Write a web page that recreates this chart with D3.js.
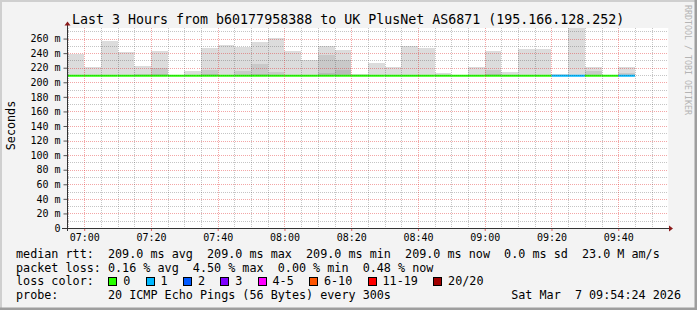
<!DOCTYPE html>
<html>
<head>
<meta charset="utf-8">
<script src="https://cdn.jsdelivr.net/npm/d3@7"></script>
<style>
  body { margin: 0; background: #fff; }
  svg text { font-family: "DejaVu Sans Mono", monospace; white-space: pre; }
</style>
</head>
<body>
<div id="chart"></div>
<script>
var w = 697;
var h = 310;

// bar start times (5 minute steps)
var barTimes = ["06:55", "07:00", "07:05", "07:10", "07:15", "07:20", "07:25", "07:30", "07:35", "07:40",
                "07:45", "07:50", "07:55", "08:00", "08:05", "08:10", "08:15", "08:20", "08:25", "08:30",
                "08:35", "08:40", "08:45", "08:50", "08:55", "09:00", "09:05", "09:10", "09:15", "09:20",
                "09:25", "09:30", "09:35", "09:40"];
// smoke, ms
var smokeMax = [239, 221, 257, 242, 222.5, 243, 210.5, 215.5, 247, 251.5, 249, 255.5, 261, 243, 231, 250, 244,
                211, 226.5, 220.5, 250, 247, 213, 210.5, 220.5, 243.5, 214.5, 245.5, 245.5, 211.5, 280, 221.5, 210.5, 220.5];
var smokeMid = [209, 209, 209, 209, 212, 220, 209, 209, 216.5, 209, 216, 225, 213.5, 209, 209, 238, 231,
                209, 209, 209, 209, 209, 209, 209, 209, 217, 209, 209, 209, 209, 209, 215, 209, 213];
var smokeLow = [209, 209, 209, 209, 209, 211, 209, 209, 211, 209, 209, 211, 209, 209, 209, 212.5, 217,
                209, 209, 209, 209, 209, 209, 209, 209, 211, 209, 209, 209, 209, 209, 209, 209, 209];
var smokeMin = 208;
var median = [209, 209, 209, 209, 209, 209, 209, 209, 209, 209, 209, 209, 209, 209, 209, 209, 209,
              209, 209, 209, 209, 209, 209, 209, 209, 209, 209, 209, 209, 209, 209, 209, 209, 209];
var lossIdx = [0, 0, 0, 0, 0, 0, 0, 0, 0, 0, 0, 0, 0, 0, 0, 0, 0,
               0, 0, 0, 0, 0, 0, 0, 0, 0, 0, 0, 0, 1, 1, 0, 0, 1];

var lossLabels = ["0", "1", "2", "3", "4-5", "6-10", "11-19", "20/20"];
var lossColors = ["#26ff00", "#00b8ff", "#0059ff", "#7e00ff", "#ff00ff", "#ff5500", "#ff0000", "#a10000"];

var yTicks = [0, 20, 40, 60, 80, 100, 120, 140, 160, 180, 200, 220, 240, 260];
var title = "Last 3 Hours from b60177958388 to UK PlusNet AS6871 (195.166.128.252)";
var statRows = [
  "median rtt:  209.0 ms avg  209.0 ms max  209.0 ms min  209.0 ms now  0.0 ms sd  23.0 M am/s",
  "packet loss: 0.16 % avg  4.50 % max  0.00 % min  0.48 % now"
];
var probeText = "probe:       20 ICMP Echo Pings (56 Bytes) every 300s";
var stamp = "Sat Mar  7 09:54:24 2026";

function t(s) {
  var p = s.split(":");
  return new Date(2026, 2, 7, +p[0], +p[1]);
}
var step = 5 * 60 * 1000;

var x0 = 67.5, x1 = 668.3, yTop = 28, yBot = 228;

var xScale = d3.scaleTime()
  .domain([t("06:55"), t("09:55")])
  .range([x0, x1]);
var yScale = d3.scaleLinear()
  .domain([0, 274.5])
  .range([yBot, yTop]);

var svg = d3.select("#chart").append("svg")
  .attr("width", w).attr("height", h);

// background + 3d frame
svg.append("rect").attr("width", w).attr("height", h).attr("fill", "#f3f3f3");
svg.append("path").attr("d", "M0,0H697V2H2V310H0Z").attr("fill", "#cfcfcf");
svg.append("path").attr("d", "M697,0V310H0V307.5H694.5V0Z").attr("fill", "#9e9e9e");

// canvas
svg.append("rect")
  .attr("x", 67).attr("y", yTop)
  .attr("width", x1 - 67).attr("height", yBot - yTop)
  .attr("fill", "#fff");

svg.append("clipPath").attr("id", "plotclip")
  .append("rect").attr("x", 67).attr("y", yTop).attr("width", x1 - 67).attr("height", yBot - yTop);

var plot = svg.append("g").attr("clip-path", "url(#plotclip)");

var bars = barTimes.map(function (s, i) {
  return { t: t(s), max: smokeMax[i], mid: smokeMid[i], low: smokeLow[i], med: median[i], loss: lossIdx[i] };
});

function smoke(key, color) {
  plot.selectAll(null).data(bars).enter().append("rect")
    .attr("x", function (d) { return xScale(d.t); })
    .attr("width", function (d) { return xScale(new Date(+d.t + step)) - xScale(d.t); })
    .attr("y", function (d) { return yScale(d[key]); })
    .attr("height", function (d) { return Math.max(0, yScale(smokeMin) - yScale(d[key])); })
    .attr("fill", color)
    .attr("shape-rendering", "crispEdges");
}
smoke("max", "#dcdcdc");
smoke("mid", "#c9c9c9");
smoke("low", "#b9b9b9");

// grid
var grid = svg.append("g").attr("shape-rendering", "crispEdges");
var minorY = d3.range(10, 275, 10);
grid.selectAll(null).data(minorY).enter().append("line")
  .attr("x1", x0).attr("x2", x1)
  .attr("y1", function (d) { return Math.round(yScale(d)) + 0.5; })
  .attr("y2", function (d) { return Math.round(yScale(d)) + 0.5; })
  .attr("stroke", function (d) { return d % 20 === 0 ? "rgba(224,32,32,0.4)" : "rgba(64,64,64,0.3)"; })
  .attr("stroke-dasharray", "1,1");

var vTicks = d3.timeMinute.every(5).range(t("06:55"), t("09:55"));
grid.selectAll(null).data(vTicks).enter().append("line")
  .attr("x1", function (d) { return Math.round(xScale(d)) + 0.5; })
  .attr("x2", function (d) { return Math.round(xScale(d)) + 0.5; })
  .attr("y1", yTop).attr("y2", yBot)
  .attr("stroke", function (d) { return d.getMinutes() % 20 === 0 ? "rgba(224,32,32,0.4)" : "rgba(64,64,64,0.3)"; })
  .attr("stroke-dasharray", "1,1");

// median line coloured by loss
plot.selectAll(null).data(bars).enter().append("line")
  .attr("x1", function (d) { return xScale(d.t); })
  .attr("x2", function (d) { return xScale(new Date(+d.t + step)); })
  .attr("y1", function (d) { return yScale(d.med); })
  .attr("y2", function (d) { return yScale(d.med); })
  .attr("stroke", function (d) { return lossColors[d.loss]; })
  .attr("stroke-width", 2);

// axes
var yAxis = d3.axisLeft(yScale)
  .tickValues(yTicks)
  .tickFormat(function (d) { return d === 0 ? "0" : d + " m"; })
  .tickSize(4).tickPadding(3);
var gy = svg.append("g").attr("transform", "translate(" + x0 + ",0)").call(yAxis);
gy.select(".domain").remove();
gy.selectAll("line").attr("stroke", "#555");
gy.selectAll("text").attr("font-size", "10px").attr("fill", "#000")
  .style("font-family", "DejaVu Sans Mono");

var xAxis = d3.axisBottom(xScale)
  .ticks(d3.timeMinute.every(20))
  .tickFormat(d3.timeFormat("%H:%M"))
  .tickSize(3).tickPadding(3);
var gx = svg.append("g").attr("transform", "translate(0," + yBot + ")").call(xAxis);
gx.select(".domain").remove();
gx.selectAll("line").attr("stroke", "#e06060");
gx.selectAll("text").attr("font-size", "10px").attr("fill", "#000")
  .style("font-family", "DejaVu Sans Mono");

svg.append("line").attr("x1", x0).attr("x2", x0).attr("y1", yBot + 3).attr("y2", 24)
  .attr("stroke", "#333").attr("shape-rendering", "crispEdges");
svg.append("line").attr("x1", 62).attr("x2", 671).attr("y1", yBot + 0.5).attr("y2", yBot + 0.5)
  .attr("stroke", "#333").attr("shape-rendering", "crispEdges");
svg.append("path").attr("d", "M64.5,25.5L67.5,21.5L70.5,25.5Z").attr("fill", "#8b1a1a");
svg.append("path").attr("d", "M669,225.5L673,228.5L669,231.5Z").attr("fill", "#8b1a1a");

// texts
svg.append("text").attr("x", 72).attr("y", 23.5)
  .attr("font-size", "13.3px").attr("fill", "#000").text(title);

svg.append("text")
  .attr("transform", "translate(15,125.5) rotate(-90)")
  .attr("text-anchor", "middle")
  .attr("font-size", "11.75px").attr("fill", "#000").text("Seconds");

svg.append("text")
  .attr("transform", "translate(685,5) rotate(90)")
  .attr("font-size", "8.3px").attr("fill", "#b4b4b4").text("RRDTOOL / TOBI OETIKER");

svg.selectAll(null).data(statRows).enter().append("text")
  .attr("x", 16)
  .attr("y", function (d, i) { return 258 + i * 13.5; })
  .attr("font-size", "11.75px").attr("fill", "#000")
  .text(function (d) { return d; });

svg.append("text").attr("x", 16).attr("y", 285)
  .attr("font-size", "11.75px").attr("fill", "#000").text("loss color:");

var cw = 7.08;
var lx = [];
var acc = 108.3;
lossLabels.forEach(function (l) { lx.push(acc); acc += (l.length + 4) * cw + 1.9; });

var leg = svg.selectAll(null).data(lossLabels).enter().append("g")
  .attr("transform", function (d, i) { return "translate(" + lx[i] + ",0)"; });
leg.append("rect").attr("x", 0.5).attr("y", 277.5).attr("width", 8).attr("height", 8)
  .attr("fill", function (d, i) { return lossColors[i]; })
  .attr("stroke", "#000").attr("shape-rendering", "crispEdges");
leg.append("text").attr("x", 15).attr("y", 285)
  .attr("font-size", "11.75px").attr("fill", "#000")
  .text(function (d) { return d; });

svg.append("text").attr("x", 16).attr("y", 298.5)
  .attr("font-size", "11.75px").attr("fill", "#000").text(probeText);
svg.append("text").attr("x", 681).attr("y", 298.5).attr("text-anchor", "end")
  .attr("font-size", "11.75px").attr("fill", "#000").text(stamp);
</script>
</body>
</html>
